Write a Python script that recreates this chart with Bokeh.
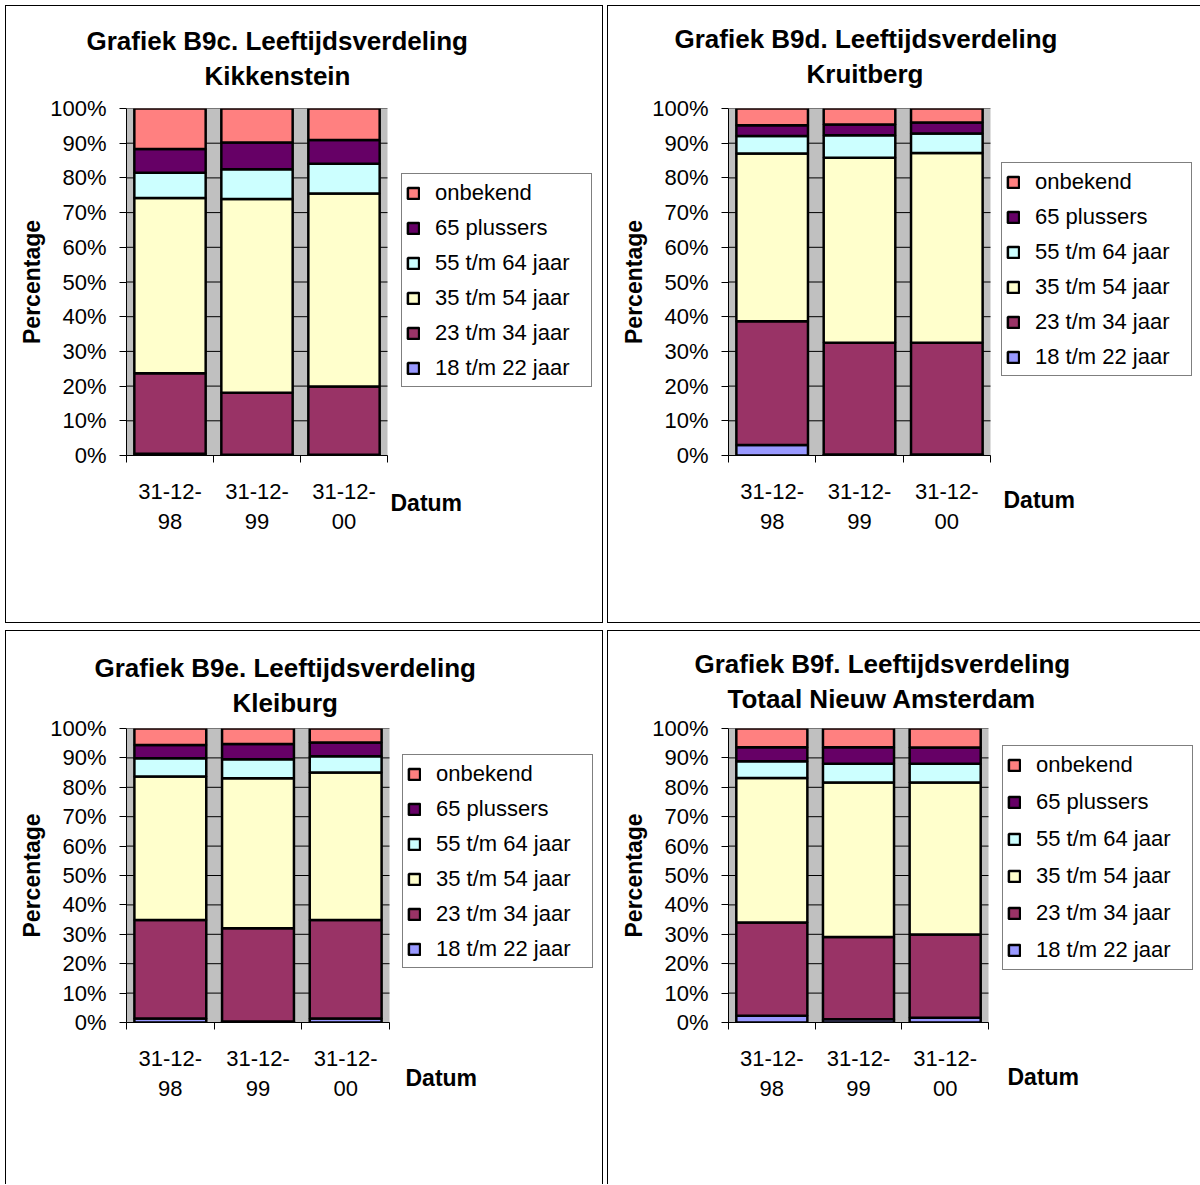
from bokeh.plotting import figure
from bokeh.layouts import row, column
from bokeh.models import (ColumnDataSource, Range1d, FixedTicker, PrintfTickFormatter,
                          Legend, LegendItem, Title)
from bokeh.embed import file_html
from bokeh.resources import INLINE

# ---------------- data ----------------
dates = ["31-12-\n98", "31-12-\n99", "31-12-\n00"]
series = ["18 t/m 22 jaar", "23 t/m 34 jaar", "35 t/m 54 jaar",
          "55 t/m 64 jaar", "65 plussers", "onbekend"]
colors = ["#9999FF", "#993366", "#FFFFCC", "#CCFFFF", "#660066", "#FF8080"]
y_ticks = [0, 10, 20, 30, 40, 50, 60, 70, 80, 90, 100]

# Kikkenstein (B9c)
kik_18_22 = [0.5, 0.2, 0.2]
kik_23_34 = [23.2, 17.9, 19.7]
kik_35_54 = [50.5, 55.8, 55.6]
kik_55_64 = [7.3, 8.6, 8.6]
kik_65plus = [6.8, 7.7, 6.8]
kik_onbekend = [11.7, 9.8, 9.1]

# Kruitberg (B9d)
kru_18_22 = [3.0, 0.3, 0.3]
kru_23_34 = [35.7, 32.2, 32.2]
kru_35_54 = [48.3, 53.3, 54.7]
kru_55_64 = [5.1, 6.5, 5.6]
kru_65plus = [3.1, 3.1, 3.2]
kru_onbekend = [4.8, 4.6, 4.0]

# Kleiburg (B9e)
kle_18_22 = [1.4, 0.3, 1.4]
kle_23_34 = [33.5, 31.8, 33.5]
kle_35_54 = [48.8, 51.0, 50.1]
kle_55_64 = [6.2, 6.4, 5.6]
kle_65plus = [4.5, 5.2, 4.6]
kle_onbekend = [5.6, 5.3, 4.8]

# Totaal Nieuw Amsterdam (B9f)
tot_18_22 = [2.3, 1.1, 1.6]
tot_23_34 = [31.7, 28.0, 28.3]
tot_35_54 = [49.2, 52.5, 51.7]
tot_55_64 = [5.7, 6.4, 6.4]
tot_65plus = [4.7, 5.6, 5.5]
tot_onbekend = [6.4, 6.4, 6.5]

FONT = "Liberation Sans"


def make_panel(title1, title2, values, g):
    n = len(dates)
    frame_w = g["w"] - g["l"]
    x_end = n * frame_w / g["bw"]          # bars occupy g["bw"] px of the frame
    p = figure(width=g["w"], height=g["h"],
               x_range=Range1d(0, x_end), y_range=Range1d(0, 100),
               output_backend="svg", toolbar_location=None, tools="",
               min_border_left=g["l"], min_border_right=0,
               min_border_top=g["t"], min_border_bottom=g["b"],
               background_fill_color="white", border_fill_color="white",
               outline_line_color=None, styles=g["css"])

    # grey plot area and grid lines over the category span only
    p.quad(left=[0], right=[n], bottom=[y_ticks[0]], top=[y_ticks[-1]],
           fill_color="#C0C0C0", line_color=None, level="underlay")
    p.segment(x0=[0] * len(y_ticks), x1=[n] * len(y_ticks), y0=y_ticks, y1=y_ticks,
              line_color="black", line_width=1, level="underlay")

    keys = ["s%d" % i for i in range(len(series))]
    data = {"x": [i + 0.5 for i in range(n)]}
    for k, v in zip(keys, values):
        data[k] = v
    src = ColumnDataSource(data)
    rs = p.vbar_stack(keys, x="x", width=0.82, source=src,
                      fill_color=colors, line_color="black", line_width=2.5)

    # y axis
    p.yaxis.ticker = FixedTicker(ticks=y_ticks)
    p.yaxis.formatter = PrintfTickFormatter(format="%d%%")
    p.yaxis.major_tick_out = 7
    p.yaxis.major_tick_in = 0
    p.yaxis.minor_tick_line_color = None
    p.yaxis.major_label_standoff = 13
    p.yaxis.major_label_text_font = FONT
    p.yaxis.major_label_text_font_size = "22px"
    p.yaxis.major_label_text_color = "black"
    p.yaxis.axis_label = "Percentage"
    p.yaxis.axis_label_text_font = FONT
    p.yaxis.axis_label_text_font_style = "bold"
    p.yaxis.axis_label_text_font_size = "23px"
    p.yaxis.axis_label_text_color = "black"
    p.yaxis.axis_label_standoff = 2
    p.yaxis.axis_line_color = "black"
    p.yaxis.major_tick_line_color = "black"

    # x axis: labels centred under bars, tick marks at category edges
    p.xaxis.bounds = (0, n)
    p.xaxis.ticker = FixedTicker(ticks=[i + 0.5 for i in range(n)],
                                 minor_ticks=[i for i in range(n + 1)])
    p.xaxis.major_label_overrides = {i + 0.5: d for i, d in enumerate(dates)}
    p.xaxis.major_tick_line_color = None
    p.xaxis.major_tick_out = 0
    p.xaxis.major_tick_in = 0
    p.xaxis.minor_tick_out = 7
    p.xaxis.minor_tick_in = 0
    p.xaxis.minor_tick_line_color = "black"
    p.xaxis.axis_line_color = "black"
    p.xaxis.major_label_standoff = 16
    p.xaxis.major_label_text_font = FONT
    p.xaxis.major_label_text_font_size = "22px"
    p.xaxis.major_label_text_color = "black"
    p.xaxis.major_label_text_line_height = 1.2

    p.xgrid.visible = False
    p.ygrid.visible = False

    items = [LegendItem(label=series[i], renderers=[rs[i]])
             for i in reversed(range(len(series)))]
    leg = Legend(items=items, location=g["leg"], margin=0, padding=4,
                 spacing=g["lsp"], glyph_width=14, glyph_height=14,
                 label_height=g["lh"], label_width=152, label_standoff=15,
                 label_text_font=FONT, label_text_font_size="22px",
                 label_text_color="black",
                 border_line_color="black", border_line_width=1,
                 background_fill_color="white", background_fill_alpha=1)
    p.add_layout(leg)

    # titles: the first one added sits nearest to the frame
    p.add_layout(Title(text=title2, align="left", offset=g["to"][1],
                       standoff=g["ts"][1], text_font=FONT, text_font_style="bold",
                       text_font_size="26px", text_color="black"), "above")
    p.add_layout(Title(text=title1, align="left", offset=g["to"][0],
                       standoff=g["ts"][0], text_font=FONT, text_font_style="bold",
                       text_font_size="26px", text_color="black"), "above")
    p.add_layout(Title(text="Datum", align="left", vertical_align="top",
                       offset=g["doff"], standoff=g["dst"], text_font=FONT,
                       text_font_style="bold", text_font_size="23px",
                       text_color="black"), "below")
    return p


box_full = {"border": "1px solid black"}
box_d = {"border-left": "1px solid black", "border-top": "1px solid black",
         "border-bottom": "1px solid black"}
box_e = {"border-left": "1px solid black", "border-top": "1px solid black",
         "border-right": "1px solid black"}
box_f = {"border-left": "1px solid black", "border-top": "1px solid black"}

g_c = dict(w=598, h=618, l=120, t=102, b=169, bw=261, to=(-40, 78), ts=(-30, 36),
           leg=(275, 68), lh=29, lsp=6, doff=264, dst=-93, css=box_full)
g_d = dict(w=593, h=618, l=120, t=102, b=169, bw=262, to=(-54, 78), ts=(-34, 40),
           leg=(273, 79), lh=29, lsp=6, doff=275, dst=-100, css=box_d)
g_e = dict(w=598, h=554, l=120, t=96, b=163, bw=263, to=(-32, 106), ts=(-16, 22),
           leg=(276, 54), lh=29, lsp=6, doff=279, dst=-77, css=box_e)
g_f = dict(w=593, h=554, l=120, t=97, b=163, bw=260, to=(-34, -1), ts=(-24, 30),
           leg=(274, 52), lh=30, lsp=7, doff=279, dst=-80, css=box_f)

pc = make_panel("Grafiek B9c. Leeftijdsverdeling", "Kikkenstein",
                [kik_18_22, kik_23_34, kik_35_54, kik_55_64, kik_65plus, kik_onbekend], g_c)
pd = make_panel("Grafiek B9d. Leeftijdsverdeling", "Kruitberg",
                [kru_18_22, kru_23_34, kru_35_54, kru_55_64, kru_65plus, kru_onbekend], g_d)
pe = make_panel("Grafiek B9e. Leeftijdsverdeling", "Kleiburg",
                [kle_18_22, kle_23_34, kle_35_54, kle_55_64, kle_65plus, kle_onbekend], g_e)
pf = make_panel("Grafiek B9f. Leeftijdsverdeling", "Totaal Nieuw Amsterdam",
                [tot_18_22, tot_23_34, tot_35_54, tot_55_64, tot_65plus, tot_onbekend], g_f)

layout = column(row(pc, pd, spacing=4), row(pe, pf, spacing=4), spacing=7,
                margin=(5, 0, 0, 5))

open("out.html", "w").write(file_html(layout, INLINE))
